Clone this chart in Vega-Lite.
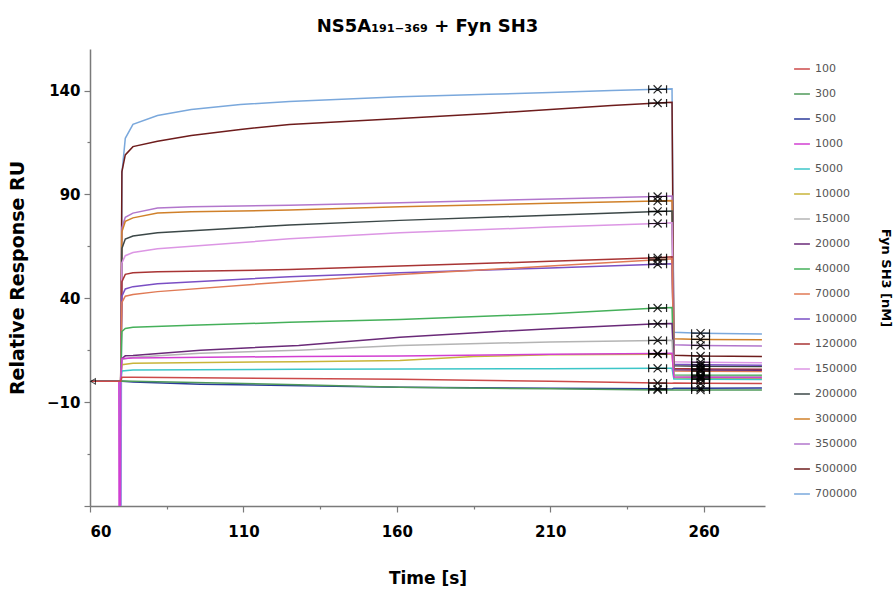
{
"$schema": "https://vega.github.io/schema/vega-lite/v6.json",
"autosize": "none",
"width": 675,
"height": 457,
"padding": {"left": 90, "top": 49, "right": 128, "bottom": 83},
"background": "white",
"config": {"view": {"stroke": null}, "font": "DejaVu Sans"},
"title": {"text": "NS5A₁₉₁₋₃₆₉ + Fyn SH3", "font": "DejaVu Sans", "fontSize": 18, "fontWeight": "bold", "color": "black", "anchor": "middle", "offset": 13},
"datasets": {
"sg": [
{"s":"700000","t":60.5,"v":0},{"s":"700000","t":69.6,"v":0},{"s":"700000","t":69.7,"v":-80},{"s":"700000","t":70.1,"v":-80},{"s":"700000","t":70.4,"v":100},{"s":"700000","t":71.5,"v":117},{"s":"700000","t":74,"v":123.7},{"s":"700000","t":82,"v":128},{"s":"700000","t":93,"v":130.9},{"s":"700000","t":109,"v":133.3},{"s":"700000","t":125,"v":134.7},{"s":"700000","t":161,"v":137},{"s":"700000","t":190,"v":138.2},{"s":"700000","t":210,"v":139},{"s":"700000","t":230,"v":140},{"s":"700000","t":245,"v":140.6},{"s":"700000","t":249.7,"v":140.8},{"s":"700000","t":250.3,"v":23.6},{"s":"700000","t":259,"v":23.2},{"s":"700000","t":279,"v":22.8},
{"s":"500000","t":60.5,"v":0},{"s":"500000","t":70,"v":0},{"s":"500000","t":70.4,"v":101},{"s":"500000","t":71.5,"v":109},{"s":"500000","t":74,"v":113},{"s":"500000","t":82,"v":115.6},{"s":"500000","t":93,"v":118.4},{"s":"500000","t":109,"v":121.3},{"s":"500000","t":125,"v":123.7},{"s":"500000","t":161,"v":126.6},{"s":"500000","t":190,"v":129},{"s":"500000","t":210,"v":130.9},{"s":"500000","t":230,"v":132.8},{"s":"500000","t":245,"v":134},{"s":"500000","t":249.7,"v":134.4},{"s":"500000","t":250.3,"v":12.6},{"s":"500000","t":259,"v":12.2},{"s":"500000","t":279,"v":12.0},
{"s":"350000","t":60.5,"v":0},{"s":"350000","t":70,"v":0},{"s":"350000","t":70.4,"v":74},{"s":"350000","t":71.5,"v":79},{"s":"350000","t":74,"v":81},{"s":"350000","t":82,"v":83.5},{"s":"350000","t":93,"v":84},{"s":"350000","t":125,"v":84.8},{"s":"350000","t":161,"v":86},{"s":"350000","t":210,"v":87.8},{"s":"350000","t":245,"v":89},{"s":"350000","t":249.7,"v":89.2},{"s":"350000","t":250.3,"v":17.6},{"s":"350000","t":259,"v":17.3},{"s":"350000","t":279,"v":17.0},
{"s":"300000","t":60.5,"v":0},{"s":"300000","t":70,"v":0},{"s":"300000","t":70.4,"v":72},{"s":"300000","t":71.5,"v":77},{"s":"300000","t":74,"v":78.7},{"s":"300000","t":82,"v":81},{"s":"300000","t":93,"v":81.6},{"s":"300000","t":125,"v":82.5},{"s":"300000","t":161,"v":84},{"s":"300000","t":210,"v":85.8},{"s":"300000","t":245,"v":86.8},{"s":"300000","t":249.7,"v":87},{"s":"300000","t":250.3,"v":20.5},{"s":"300000","t":259,"v":20.2},{"s":"300000","t":279,"v":20.0},
{"s":"200000","t":60.5,"v":0},{"s":"200000","t":70,"v":0},{"s":"200000","t":70.4,"v":64},{"s":"200000","t":71.5,"v":68.5},{"s":"200000","t":74,"v":70},{"s":"200000","t":82,"v":71.5},{"s":"200000","t":125,"v":75.3},{"s":"200000","t":161,"v":77.5},{"s":"200000","t":210,"v":80},{"s":"200000","t":245,"v":81.8},{"s":"200000","t":249.7,"v":82},{"s":"200000","t":250.3,"v":7.5},{"s":"200000","t":259,"v":7.3},{"s":"200000","t":279,"v":7.1},
{"s":"150000","t":60.5,"v":0},{"s":"150000","t":70,"v":0},{"s":"150000","t":70.4,"v":57},{"s":"150000","t":71.5,"v":60.5},{"s":"150000","t":74,"v":62},{"s":"150000","t":82,"v":63.8},{"s":"150000","t":125,"v":68.6},{"s":"150000","t":161,"v":71.5},{"s":"150000","t":210,"v":74.3},{"s":"150000","t":245,"v":76},{"s":"150000","t":249.7,"v":76.3},{"s":"150000","t":250.3,"v":9.4},{"s":"150000","t":259,"v":9.2},{"s":"150000","t":279,"v":9.0},
{"s":"120000","t":60.5,"v":0},{"s":"120000","t":70,"v":0},{"s":"120000","t":70.4,"v":48},{"s":"120000","t":71.5,"v":51.5},{"s":"120000","t":74,"v":52.3},{"s":"120000","t":82,"v":52.8},{"s":"120000","t":125,"v":53.8},{"s":"120000","t":161,"v":55.5},{"s":"120000","t":210,"v":57.8},{"s":"120000","t":245,"v":59.5},{"s":"120000","t":249.7,"v":60},{"s":"120000","t":250.3,"v":6.2},{"s":"120000","t":259,"v":6.0},{"s":"120000","t":279,"v":5.8},
{"s":"100000","t":60.5,"v":0},{"s":"100000","t":70,"v":0},{"s":"100000","t":70.4,"v":41},{"s":"100000","t":71.5,"v":44.5},{"s":"100000","t":74,"v":45.6},{"s":"100000","t":82,"v":47},{"s":"100000","t":125,"v":50.4},{"s":"100000","t":161,"v":52.3},{"s":"100000","t":210,"v":54.6},{"s":"100000","t":245,"v":56.4},{"s":"100000","t":249.7,"v":56.6},{"s":"100000","t":250.3,"v":8.2},{"s":"100000","t":259,"v":8.0},{"s":"100000","t":279,"v":7.8},
{"s":"70000","t":60.5,"v":0},{"s":"70000","t":70,"v":0},{"s":"70000","t":70.4,"v":38},{"s":"70000","t":71.5,"v":41},{"s":"70000","t":74,"v":41.8},{"s":"70000","t":82,"v":43.2},{"s":"70000","t":125,"v":48},{"s":"70000","t":161,"v":51.5},{"s":"70000","t":210,"v":55.5},{"s":"70000","t":245,"v":58.5},{"s":"70000","t":249.7,"v":59},{"s":"70000","t":250.3,"v":5.0},{"s":"70000","t":259,"v":4.9},{"s":"70000","t":279,"v":4.8},
{"s":"40000","t":60.5,"v":0},{"s":"40000","t":70,"v":0},{"s":"40000","t":70.4,"v":24},{"s":"40000","t":71.5,"v":25.5},{"s":"40000","t":74,"v":26},{"s":"40000","t":93,"v":27},{"s":"40000","t":125,"v":28.4},{"s":"40000","t":161,"v":29.8},{"s":"40000","t":210,"v":32.5},{"s":"40000","t":245,"v":35.3},{"s":"40000","t":249.7,"v":35.5},{"s":"40000","t":250.3,"v":3.1},{"s":"40000","t":259,"v":3.0},{"s":"40000","t":279,"v":2.9},
{"s":"20000","t":60.5,"v":0},{"s":"20000","t":70,"v":0},{"s":"20000","t":70.4,"v":11},{"s":"20000","t":71.5,"v":12.3},{"s":"20000","t":74,"v":12.5},{"s":"20000","t":96,"v":15},{"s":"20000","t":128,"v":17.3},{"s":"20000","t":161,"v":21.2},{"s":"20000","t":190,"v":23.8},{"s":"20000","t":210,"v":25.3},{"s":"20000","t":245,"v":27.7},{"s":"20000","t":249.7,"v":27.9},{"s":"20000","t":250.3,"v":5.6},{"s":"20000","t":259,"v":5.5},{"s":"20000","t":279,"v":5.4},
{"s":"15000","t":60.5,"v":0},{"s":"15000","t":70,"v":0},{"s":"15000","t":70.4,"v":10.5},{"s":"15000","t":74,"v":11.6},{"s":"15000","t":96,"v":13.5},{"s":"15000","t":128,"v":15},{"s":"15000","t":161,"v":17.3},{"s":"15000","t":210,"v":19},{"s":"15000","t":245,"v":19.7},{"s":"15000","t":249.7,"v":19.8},{"s":"15000","t":250.3,"v":2.6},{"s":"15000","t":259,"v":2.5},{"s":"15000","t":279,"v":2.4},
{"s":"10000","t":60.5,"v":0},{"s":"10000","t":70,"v":0},{"s":"10000","t":70.4,"v":8},{"s":"10000","t":74,"v":8.7},{"s":"10000","t":128,"v":9.5},{"s":"10000","t":161,"v":10.1},{"s":"10000","t":185,"v":12},{"s":"10000","t":210,"v":12.8},{"s":"10000","t":245,"v":13.1},{"s":"10000","t":249.7,"v":13.2},{"s":"10000","t":250.3,"v":1.6},{"s":"10000","t":259,"v":1.5},{"s":"10000","t":279,"v":1.4},
{"s":"5000","t":60.5,"v":0},{"s":"5000","t":70,"v":0},{"s":"5000","t":70.4,"v":5},{"s":"5000","t":74,"v":5.5},{"s":"5000","t":128,"v":5.8},{"s":"5000","t":210,"v":6.1},{"s":"5000","t":245,"v":6.3},{"s":"5000","t":249.7,"v":6.3},{"s":"5000","t":250.3,"v":1.1},{"s":"5000","t":259,"v":1.0},{"s":"5000","t":279,"v":0.9},
{"s":"1000","t":60.5,"v":0},{"s":"1000","t":69.4,"v":0},{"s":"1000","t":69.5,"v":-80},{"s":"1000","t":69.9,"v":-80},{"s":"1000","t":70.0,"v":0},{"s":"1000","t":70.4,"v":11},{"s":"1000","t":74,"v":11.2},{"s":"1000","t":128,"v":12},{"s":"1000","t":161,"v":12.2},{"s":"1000","t":210,"v":13},{"s":"1000","t":245,"v":13.4},{"s":"1000","t":249.7,"v":13.5},{"s":"1000","t":250.3,"v":2.1},{"s":"1000","t":259,"v":2.0},{"s":"1000","t":279,"v":1.9},
{"s":"500","t":60.5,"v":0},{"s":"500","t":70,"v":0},{"s":"500","t":70.4,"v":0},{"s":"500","t":74,"v":-0.3},{"s":"500","t":96,"v":-1.4},{"s":"500","t":161,"v":-2.8},{"s":"500","t":210,"v":-3.3},{"s":"500","t":245,"v":-3.6},{"s":"500","t":249.7,"v":-3.7},{"s":"500","t":250.3,"v":-3.3},{"s":"500","t":259,"v":-3.3},{"s":"500","t":279,"v":-3.2},
{"s":"300","t":60.5,"v":0},{"s":"300","t":70,"v":0},{"s":"300","t":70.4,"v":0.2},{"s":"300","t":74,"v":0},{"s":"300","t":128,"v":-1.6},{"s":"300","t":161,"v":-2.8},{"s":"300","t":210,"v":-3.6},{"s":"300","t":245,"v":-4.1},{"s":"300","t":249.7,"v":-4.2},{"s":"300","t":250.3,"v":-4.1},{"s":"300","t":259,"v":-4.2},{"s":"300","t":279,"v":-4.2},
{"s":"100","t":60.5,"v":0},{"s":"100","t":70,"v":0},{"s":"100","t":70.4,"v":2},{"s":"100","t":74,"v":2},{"s":"100","t":161,"v":1},{"s":"100","t":210,"v":0},{"s":"100","t":245,"v":-0.8},{"s":"100","t":249.7,"v":-0.9},{"s":"100","t":250.3,"v":-0.8},{"s":"100","t":259,"v":-0.9},{"s":"100","t":279,"v":-1.0}
]
},
"encoding": {
"x": {"field": "t", "type": "quantitative", "scale": {"domain": [60, 280], "nice": false, "zero": false},
 "axis": {"title": "Time [s]", "values": [60,85,110,135,160,185,210,235,260],
  "labelExpr": "(datum.value - 60) % 50 == 0 ? datum.label : ''",
  "grid": false, "domainColor": "#7a7a7a", "domainWidth": 1.5, "tickColor": "#7a7a7a", "tickWidth": 1.2,
  "tickSize": {"condition": {"test": "(datum.value - 60) % 50 == 0", "value": 6}, "value": 3},
  "labelFont": "DejaVu Sans", "labelFontSize": 15, "labelFontWeight": "bold", "labelColor": "black", "labelPadding": 12,
  "titleFont": "DejaVu Sans", "titleFontSize": 17, "titleFontWeight": "bold", "titleColor": "black", "titlePadding": 31}}
},
"resolve": {"axis": {"y": "independent"}},
"layer": [
{"data": {"name": "sg"},
 "mark": {"type": "line", "strokeWidth": 1.5, "clip": true},
 "encoding": {
  "y": {"field": "v", "type": "quantitative", "scale": {"domain": [-60, 160], "nice": false, "zero": false},
   "axis": {"title": "Relative Response  RU", "orient": "left", "values": [-60,-35,-10,15,40,65,90,115,140],
    "labelExpr": "(datum.value + 10) % 50 == 0 && datum.value > -60 ? datum.label : ''",
    "grid": false, "domainColor": "#7a7a7a", "domainWidth": 1.5, "tickColor": "#7a7a7a", "tickWidth": 1.2,
    "tickSize": {"condition": {"test": "(datum.value + 10) % 50 == 0", "value": 6}, "value": 3},
    "labelFont": "DejaVu Sans", "labelFontSize": 15, "labelFontWeight": "bold", "labelColor": "black", "labelPadding": 4,
    "titleFont": "DejaVu Sans", "titleFontSize": 19, "titleFontWeight": "bold", "titleColor": "black", "titlePadding": 19}},
  "color": {"field": "s", "type": "nominal",
   "scale": {"domain": ["100","300","500","1000","5000","10000","15000","20000","40000","70000","100000","120000","150000","200000","300000","350000","500000","700000"],
    "range": ["#cc4a4a","#4f9a5a","#2b3a9a","#d23fd2","#3cc6c8","#c8b43a","#b4b4b4","#6a2a78","#45b05a","#e07a55","#7a4fc4","#a83434","#dc96e4","#3c4848","#d0802a","#b276cc","#6e1c1c","#7aa8dc"]},
   "legend": {"title": null, "orient": "none", "legendX": 703, "legendY": 11,
    "symbolType": "stroke", "symbolSize": 250, "symbolStrokeWidth": 1.5,
    "labelFont": "DejaVu Sans", "labelFontSize": 11, "labelColor": "#555555", "labelOffset": 4,
    "rowPadding": 11}}
 }},
{"data": {"name": "sg"},
 "transform": [{"filter": "datum.t == 245 || datum.t == 259"}],
 "mark": {"type": "point", "shape": "M-1,-0.45L-1,0.45M1,-0.45L1,0.45M-1,0L1,0M-0.45,-0.45L0.45,0.45M-0.45,0.45L0.45,-0.45", "size": 320, "filled": false, "stroke": "black", "strokeWidth": 1.2, "opacity": 0.85},
 "encoding": {"y": {"field": "v", "type": "quantitative", "axis": null}}},
{"data": {"values": [{"t": 61, "v": 0}]},
 "mark": {"type": "point", "shape": "triangle-left", "size": 30, "filled": false, "stroke": "black", "strokeWidth": 1.1},
 "encoding": {
  "y": {"field": "v", "type": "quantitative",
   "axis": {"orient": "right", "title": "Fyn SH3 [nM]", "labels": false, "ticks": false, "domain": false, "grid": false,
    "titleAngle": 90, "titlePadding": 113, "titleFont": "DejaVu Sans", "titleFontSize": 13, "titleFontWeight": "bold", "titleColor": "black"}}
 }}
]
}
